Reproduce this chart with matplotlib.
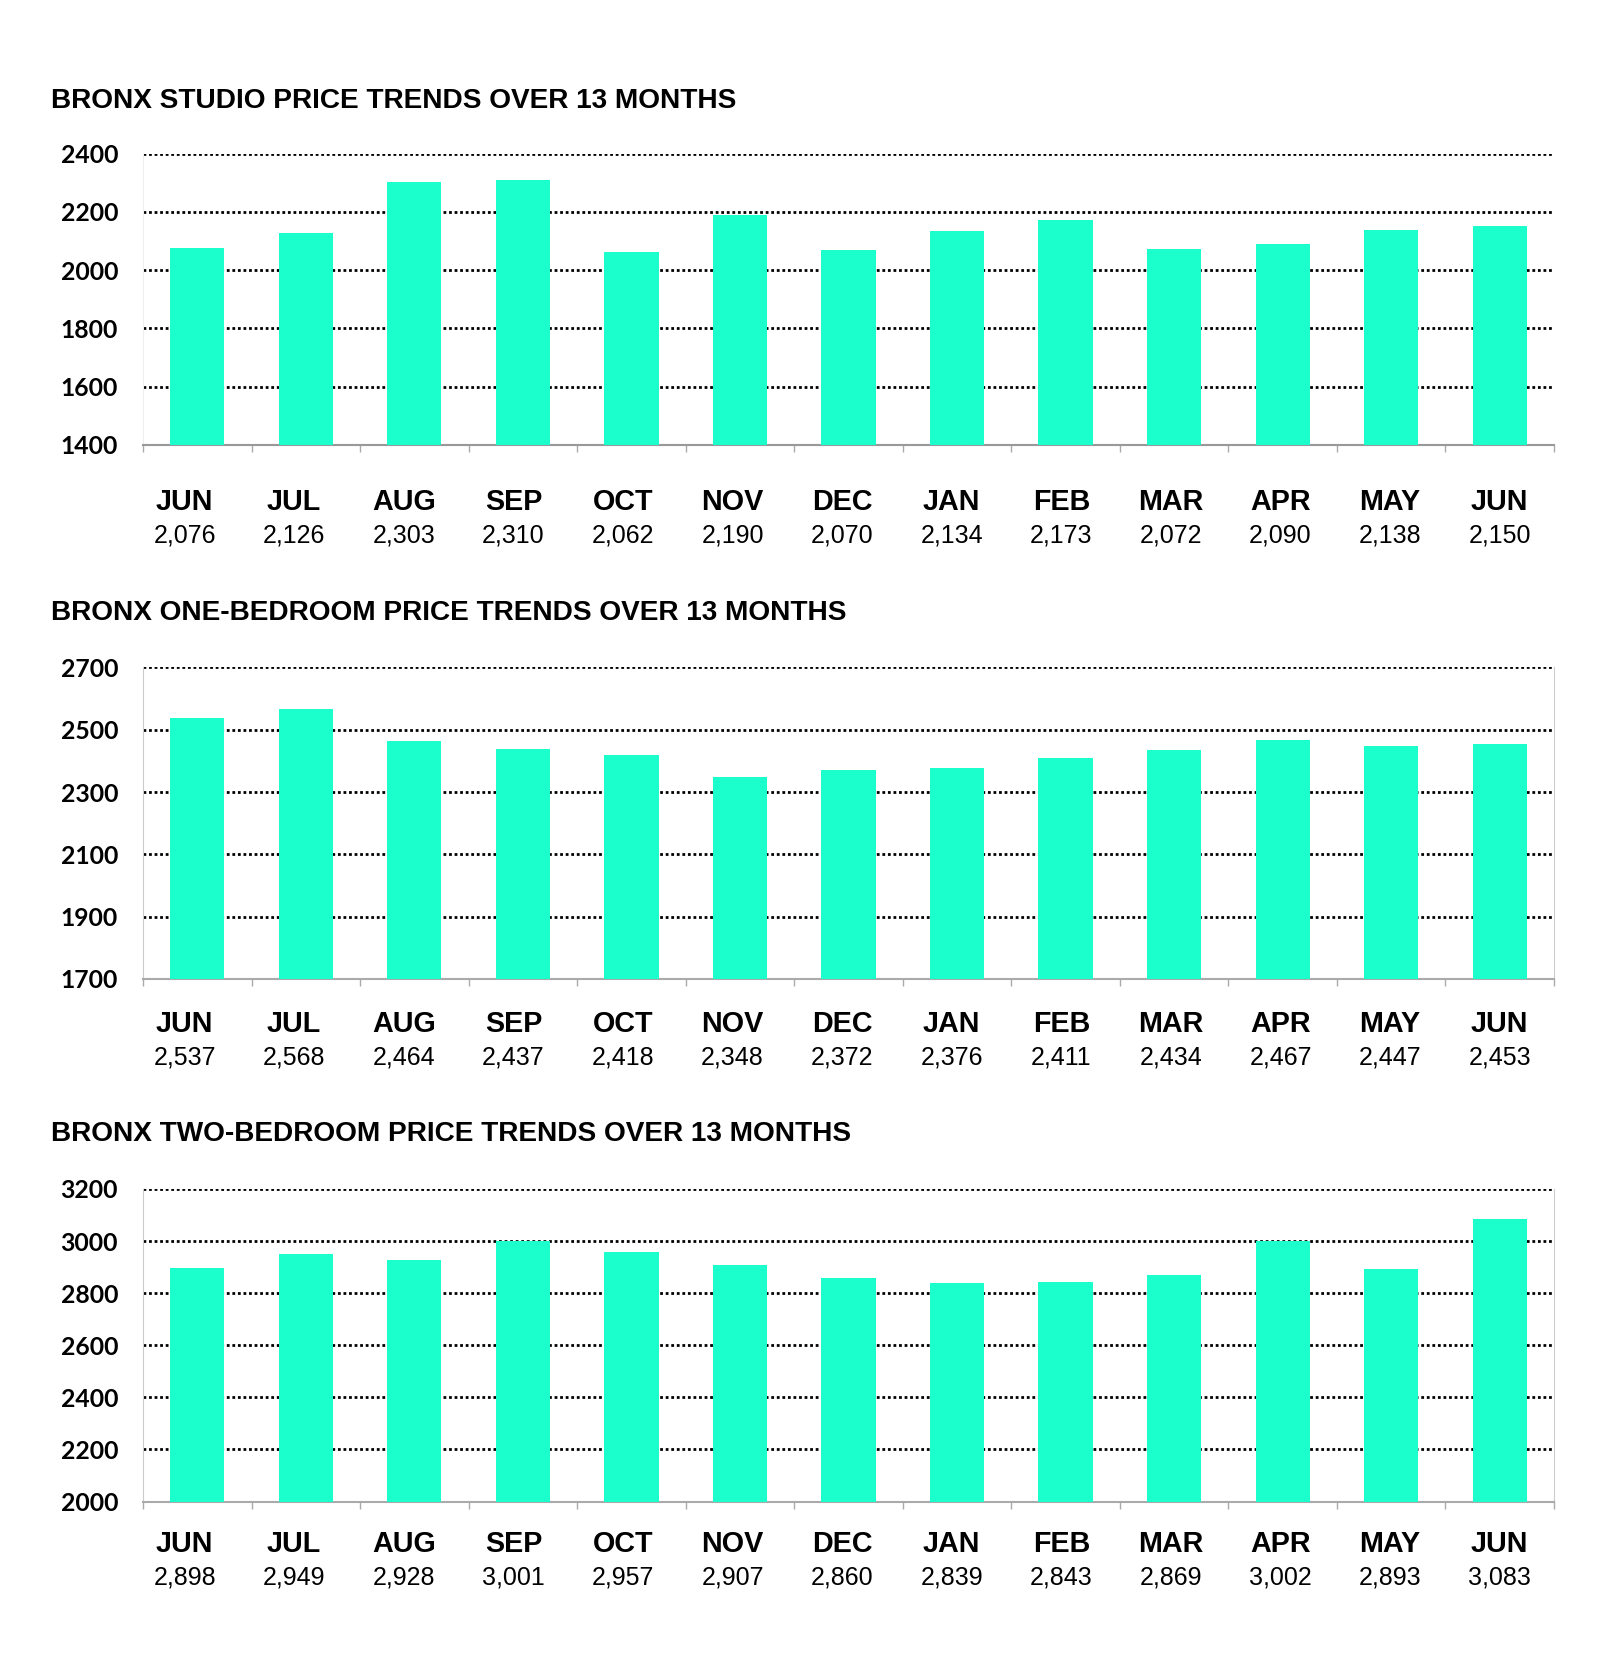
import matplotlib
matplotlib.use("Agg")
import matplotlib.pyplot as plt
import numpy as np

months = ["JUN", "JUL", "AUG", "SEP", "OCT", "NOV", "DEC", "JAN", "FEB", "MAR", "APR", "MAY", "JUN"]
studio = [2076, 2126, 2303, 2310, 2062, 2190, 2070, 2134, 2173, 2072, 2090, 2138, 2150]
one_bed = [2537, 2568, 2464, 2437, 2418, 2348, 2372, 2376, 2411, 2434, 2467, 2447, 2453]
two_bed = [2898, 2949, 2928, 3001, 2957, 2907, 2860, 2839, 2843, 2869, 3002, 2893, 3083]
titles = ["BRONX STUDIO PRICE TRENDS OVER 13 MONTHS",
          "BRONX ONE-BEDROOM PRICE TRENDS OVER 13 MONTHS",
          "BRONX TWO-BEDROOM PRICE TRENDS OVER 13 MONTHS"]
yticks_list = [[1400, 1600, 1800, 2000, 2200, 2400],
               [1700, 1900, 2100, 2300, 2500, 2700],
               [2000, 2200, 2400, 2600, 2800, 3000, 3200]]

W, H = 1600, 1662
fig = plt.figure(figsize=(W / 100, H / 100), dpi=100)

# layout in pixels: (top, bottom, title_y, month_off, value_off)
layout = [(153.6, 445, 101.5, 56.5, 90.5),
          (667.5, 979, 613, 45, 79),
          (1189, 1501.5, 1134, 42.5, 76)]
left_px, right_px = 143, 1554
bar_color = "#1AFFCC"
series = [studio, one_bed, two_bed]

for k, (vals, title, yt, lay) in enumerate(zip(series, titles, yticks_list, layout)):
    top, bot, ty, moff, voff = lay
    ax = fig.add_axes([left_px / W, 1 - bot / H, (right_px - left_px) / W, (bot - top) / H])
    x = np.arange(len(months))
    ax.bar(x, vals, width=0.5, color=bar_color, zorder=3)
    ax.set_xlim(-0.5, len(months) - 0.5)
    ax.set_ylim(yt[0], yt[-1])
    ax.set_yticks(yt)
    ax.set_yticklabels([str(v) for v in yt], fontfamily="Lato", fontweight="bold", fontsize=17.8)
    ax.tick_params(axis="y", length=0, pad=18)
    for v in yt[1:]:
        ax.axhline(v, color="black", linestyle=(0, (1, 1)), linewidth=2, zorder=1)
    ax.set_xticks(np.arange(-0.5, len(months), 1.0))
    ax.set_xticklabels([])
    ax.tick_params(axis="x", length=5, width=1, color="#aaaaaa", direction="out")
    ax.spines["top"].set_visible(False)
    if k == 0:
        ax.spines["bottom"].set_color("#999999")
        ax.spines["bottom"].set_linestyle((0, (1, 0.6)))
        ax.spines["bottom"].set_linewidth(1.5)
        ax.spines["left"].set_color("#eeeeee")
        ax.spines["right"].set_visible(False)
    else:
        ax.spines["bottom"].set_color("#aaaaaa")
        ax.spines["bottom"].set_linewidth(1.5)
        ax.spines["left"].set_color("#cccccc")
        ax.spines["right"].set_color("#cccccc")
    n = len(months)
    for i, (m, v) in enumerate(zip(months, vals)):
        dx = -12.7 * (1 - i / (n - 1))
        ax.annotate(m, xy=(i, 0), xycoords=("data", "axes fraction"),
                    xytext=(dx, -moff), textcoords="offset pixels",
                    ha="center", va="center", fontsize=20.7, fontweight="bold",
                    fontfamily="Liberation Sans")
        ax.annotate(f"{v:,}", xy=(i, 0), xycoords=("data", "axes fraction"),
                    xytext=(dx, -voff), textcoords="offset pixels",
                    ha="center", va="center", fontsize=18,
                    fontfamily="Liberation Sans")
    fig.text(51 / W, 1 - ty / H, title, ha="left", va="center",
             fontsize=20.2, fontweight="bold", fontfamily="Liberation Sans")

fig.savefig("out.png", dpi=100, facecolor="white")
